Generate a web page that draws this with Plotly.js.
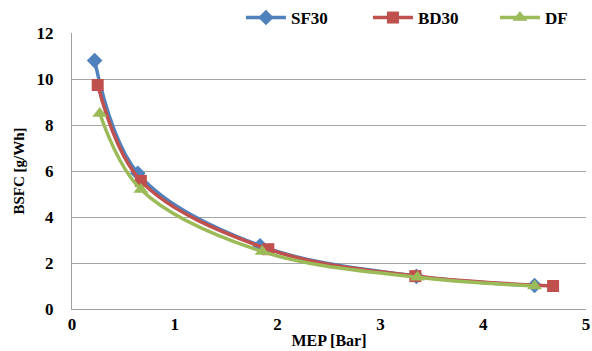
<!DOCTYPE html>
<html><head><meta charset="utf-8">
<script src="https://cdn.plot.ly/plotly-3.0.1.min.js"></script>
<style>body{margin:0;padding:0;background:#fff}#c{width:592px;height:351px}</style>
</head><body><div id="c"></div>
<script>
const sf30X = [0.22, 0.64, 1.83, 3.35, 4.5];
const sf30Y = [10.8, 5.9, 2.75, 1.42, 1.02];
const bd30X = [0.25, 0.67, 1.91, 3.34, 4.68];
const bd30Y = [9.74, 5.57, 2.6, 1.43, 1.0];
const dfX = [0.27, 0.67, 1.85, 3.36, 4.5];
const dfY = [8.5, 5.2, 2.5, 1.38, 1.0];

const font = {family: '"Liberation Serif", "Times New Roman", serif', color: '#000'};
function tr(name, x, y, color, symbol, size) {
  return {type: 'scatter', mode: 'lines+markers', name, x, y,
    line: {color, width: 3.5, shape: 'spline', smoothing: 1},
    marker: {color, symbol, size}};
}
const data = [
  tr('SF30', sf30X, sf30Y, '#4F81BD', 'diamond', 12),
  tr('BD30', bd30X, bd30Y, '#C0504D', 'square', 12),
  tr('DF', dfX, dfY, '#9BBB59', 'triangle-up', 13)
];
const layout = {
  width: 592, height: 351,
  margin: {l: 72, r: 6, t: 33, b: 42, autoexpand: false},
  paper_bgcolor: '#fff', plot_bgcolor: '#fff',
  font: Object.assign({size: 16}, font),
  showlegend: true,
  legend: {orientation: 'h', xref: 'container', yref: 'container', x: 0.407, xanchor: 'left',
    y: 1.0, yanchor: 'top',
    font: Object.assign({size: 17, weight: 'bold'}, font), itemwidth: 40, entrywidth: 72,
    tracegroupgap: 0, bgcolor: 'rgba(0,0,0,0)'},
  xaxis: {range: [0, 5], dtick: 1, showgrid: false, zeroline: false,
    showline: true, linecolor: '#a0a0a0', linewidth: 1, ticks: '', ticklabeloverflow: 'allow',
    tickfont: Object.assign({size: 17, weight: 'bold'}, font),
    title: {text: 'MEP [Bar]', font: Object.assign({size: 16, weight: 'bold'}, font), standoff: 1}},
  yaxis: {range: [0, 12], dtick: 2, showgrid: true, gridcolor: '#a6a6a6', gridwidth: 1,
    zeroline: false, showline: true, linecolor: '#a0a0a0', linewidth: 1, ticks: '',
    tickfont: Object.assign({size: 17, weight: 'bold'}, font), ticklabelstandoff: 14,
    title: {text: 'BSFC [g/Wh]', font: Object.assign({size: 15, weight: 'bold'}, font), standoff: 8}}
};
Plotly.newPlot('c', data, layout, {displayModeBar: false, staticPlot: true});
</script></body></html>
